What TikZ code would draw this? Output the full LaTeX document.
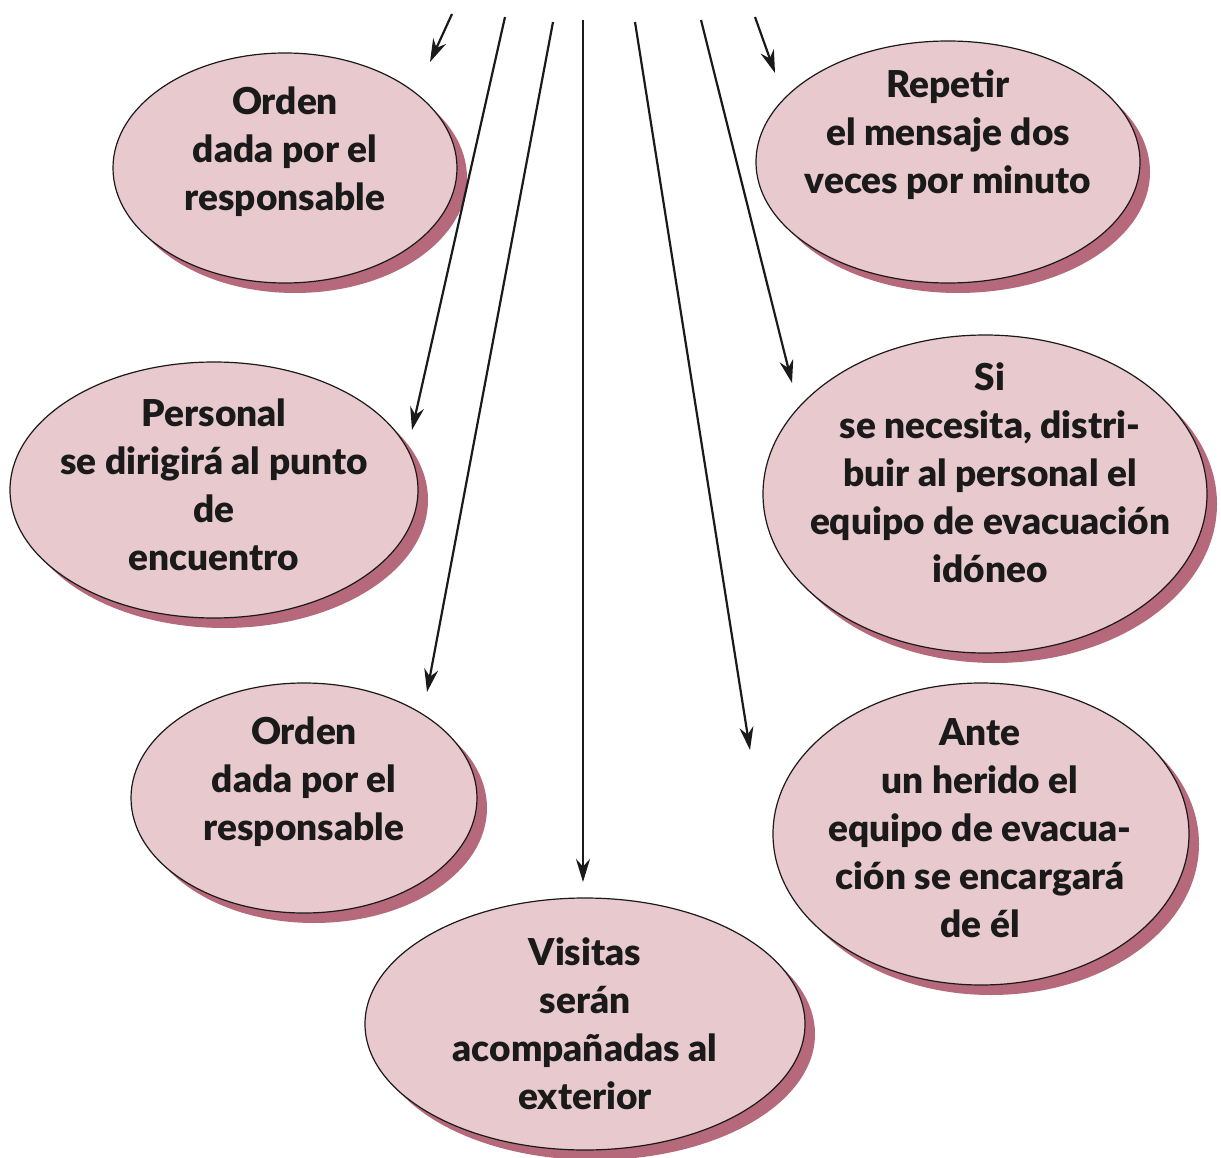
\documentclass[tikz,border=0pt]{standalone}
\usepackage{fontspec}
\setmainfont{Lato}[BoldFont={Lato Black}]
\usepackage{tikz}
\usetikzlibrary{arrows.meta,shapes.geometric,shadows}
\definecolor{rosa}{HTML}{E8C9CD}
\definecolor{sombra}{HTML}{B5697A}
\definecolor{tinta}{HTML}{1A1A1A}
\tikzset{globo/.style={ellipse,draw=tinta,line width=1.2pt,fill=rosa,inner sep=0pt,
           general shadow={fill=sombra,shadow xshift=10pt,shadow yshift=-10pt}},
         txt/.style={font=\fontsize{37}{48}\selectfont\bfseries,align=center,text=tinta},
         ar/.style={draw=tinta,line width=2.2pt,-{Stealth[length=23pt,width=14pt]}}}
\begin{document}
\begin{tikzpicture}[x=1pt,y=-1pt]
\useasboundingbox (0,0) rectangle (1221,1158);
% burbujas
\node[globo,minimum width=344pt,minimum height=230pt] (b1) at (285,168) {};
\node[globo,minimum width=384pt,minimum height=242pt] (b2) at (948,162) {};
\node[globo,minimum width=408pt,minimum height=256pt] (b3) at (214,490) {};
\node[globo,minimum width=444pt,minimum height=318pt] (b4) at (985,494) {};
\node[globo,minimum width=346pt,minimum height=230pt] (b5) at (304,798) {};
\node[globo,minimum width=416pt,minimum height=302pt] (b6) at (981,834) {};
\node[globo,minimum width=440pt,minimum height=252pt] (b7) at (585,1024) {};
% textos
\node[txt] (t1) at (285,152) {Orden\\dada por el\\responsable};
\node[txt] (t2) at (948,135) {Repetir\\el mensaje dos\\veces por minuto};
\node[txt] (t3) at (214,485) {Personal\\se dirigirá al punto\\de\\encuentro};
\node[txt] (t4) at (990,473) {Si\\se necesita, distri-\\buir al personal el\\equipo de evacuación\\idóneo};
\node[txt] (t5) at (304,782) {Orden\\dada por el\\responsable};
\node[txt] (t6) at (980,828) {Ante\\un herido el\\equipo de evacua-\\ción se encargará\\de él};
\node[txt] (t7) at (585,1024) {Visitas\\serán\\acompañadas al\\exterior};
% flechas
\coordinate (s1) at (452,14);  \coordinate (p1) at (430,62);
\coordinate (s2) at (505,17);  \coordinate (p2) at (412,430);
\coordinate (s3) at (553,22);  \coordinate (p3) at (427,692);
\coordinate (s4) at (583,20);  \coordinate (p4) at (583,882);
\coordinate (s5) at (635,22);  \coordinate (p5) at (750,750);
\coordinate (s6) at (701,20);  \coordinate (p6) at (792,383);
\coordinate (s7) at (755,17);  \coordinate (p7) at (775,73);
\foreach \i in {1,...,7} \draw[ar] (s\i) -- (p\i);
\end{tikzpicture}
\end{document}
